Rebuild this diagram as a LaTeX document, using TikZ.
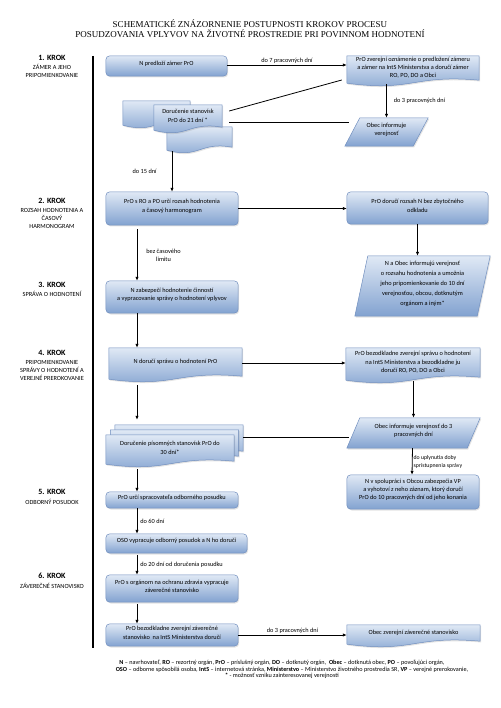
\documentclass[tikz,border=0pt]{standalone}
\usepackage{fontspec}
\setmainfont{Carlito}
\newfontfamily\titlefont{Liberation Serif}
\usetikzlibrary{arrows.meta,calc,fit,backgrounds,shadows}
\definecolor{btop}{RGB}{224,233,245}
\definecolor{bbot}{RGB}{130,162,208}
\definecolor{bord}{RGB}{112,142,190}
\newcommand{\bx}[4]{\node[txt, fit={#2 #3}] (#1) {#4};}
\newcommand{\rrbg}[1]{\path[boxfill, rounded corners=4pt] (#1.north west) rectangle (#1.south east);}
\newcommand{\docbg}[1]{\path[boxfill] ($(#1.south west)+(0,-1)$) -- (#1.north west) -- (#1.north east) -- ($(#1.south east)+(0,-4)$) .. controls ($(#1.south)+(0,-10)$) and ($(#1.south)+(0,8)$) .. ($(#1.south west)+(0,-1)$) -- cycle;}
\newcommand{\parbg}[2]{\path[boxfill] ($(#1.north west)+(#2,0)$) -- (#1.north east) -- ($(#1.south east)-(#2,0)$) -- (#1.south west) -- cycle;}
\begin{document}
\begin{tikzpicture}[x=1pt,y=-1pt,
 txt/.style={inner sep=0pt, align=center, font=\fontsize{6.3}{8.2}\selectfont},
 boxfill/.style={draw=bord, line width=0.5pt, top color=btop, bottom color=bbot,
   drop shadow={opacity=0.22,shadow xshift=1pt,shadow yshift=-1.3pt}},
 arr/.style={-{Latex[length=4pt,width=3.4pt]}, line width=0.8pt},
 ln/.style={line width=0.8pt},
 lbl/.style={font=\fontsize{6.3}{8}\selectfont, inner sep=1pt, align=left},
 krok/.style={font=\bfseries\fontsize{8}{9}\selectfont, inner sep=0pt},
 ksub/.style={align=center, font=\fontsize{6.3}{8}\selectfont, inner sep=0pt},
 leg/.style={inner sep=0pt, font=\fontsize{6.2}{7}\selectfont}
]
\useasboundingbox (0,0) rectangle (500,708);

% title
\node[align=center, inner sep=0pt, font=\titlefont\fontsize{9}{10.3}\selectfont] (title) at (250,29)
 {SCHEMATICKÉ ZNÁZORNENIE POSTUPNOSTI KROKOV PROCESU\\POSUDZOVANIA VPLYVOV NA ŽIVOTNÉ PROSTREDIE PRI POVINNOM HODNOTENÍ};

% left labels
\node[krok] (k1) at (52,58) {1. KROK};
\node[ksub] (k1s) at (52,71) {ZÁMER A JEHO\\PRIPOMIENKOVANIE};
\node[krok] (k2) at (52,201) {2. KROK};
\node[ksub] (k2s) at (52,218) {ROZSAH HODNOTENIA A\\ČASOVÝ\\HARMONOGRAM};
\node[krok] (k3) at (52,285) {3. KROK};
\node[ksub] (k3s) at (52,294) {SPRÁVA O HODNOTENÍ};
\node[krok] (k4) at (52,353) {4. KROK};
\node[ksub] (k4s) at (52,370) {PRIPOMIENKOVANIE\\SPRÁVY O HODNOTENÍ A\\VEREJNÉ PREROKOVANIE};
\node[krok] (k5) at (52,492) {5. KROK};
\node[ksub] (k5s) at (52,502) {ODBORNÝ POSUDOK};
\node[krok] (k6) at (52,576) {6. KROK};
\node[ksub] (k6s) at (52,586) {ZÁVEREČNÉ STANOVISKO};

% vertical bar
\draw[line width=2.8pt] (93,56) -- (93,648);

\coordinate (colx) at (137,0);

% boxes
\bx{n1}{(106,56)}{(227,76)}{N predloží zámer PrO}
\bx{n2}{(347,56)}{(479,84)}{PrO zverejní oznámenie o predložení zámeru\\a zámer na IntS Ministerstva a doručí zámer\\RO, PO, DO a Obci}
\node[fit={(123,101) (190,126)}, inner sep=0pt] (md1a) {};
\node[fit={(167,127) (232,151)}, inner sep=0pt] (md1c) {};
\bx{md1}{(154,105)}{(222,131)}{Doručenie stanovísk\\PrO do 21 dní *}
\bx{ob1}{(345,118)}{(428,146)}{Obec informuje\\verejnosť}
\bx{n5}{(106,192)}{(238,225)}{PrO s RO a PO určí rozsah hodnotenia\\a časový harmonogram}
\bx{n6}{(347,192)}{(488,224)}{PrO doručí rozsah N bez zbytočného\\odkladu}
\node[txt, fit={(355,256) (490,316)}, font=\fontsize{6.3}{10}\selectfont] (p7) {N a Obec informujú verejnosť\\o rozsahu hodnotenia a umožnia\\jeho pripomienkovanie do 10 dní\\verejnosťou, obcou, dotknutým\\orgánom a iným*};
\bx{n8}{(106,281)}{(238,313)}{N zabezpečí hodnotenie činností\\a vypracovanie správy o hodnotení vplyvov}
\bx{n9}{(109,348)}{(242,380)}{N doručí správu o hodnotení PrO}
\bx{n10}{(346,348)}{(480,381)}{PrO bezodkladne zverejní správu o hodnotení\\na IntS Ministerstva a bezodkladne ju\\doručí RO, PO, DO a Obci}
\bx{p11}{(347,418)}{(480,448)}{Obec informuje verejnosť do 3\\pracovných dní}
\node[fit={(115,425) (243,455)}, inner sep=0pt] (md2c) {};
\node[fit={(110.5,430) (238.5,460)}, inner sep=0pt] (md2b) {};
\bx{md2}{(106,435)}{(234,465)}{Doručenie písomných stanovísk PrO do\\30 dní*}
\bx{n13}{(347,475)}{(479,509)}{N v spolupráci s Obcou zabezpečia VP\\a vyhotoví z neho záznam, ktorý doručí\\PrO do 10 pracovných dní od jeho konania}
\bx{n14}{(106,492)}{(238,508)}{PrO určí spracovateľa odborného posudku}
\bx{n15}{(106,534)}{(247,553)}{OSO vypracuje odborný posudok a N ho doručí}
\bx{n16}{(106,575)}{(238,602)}{PrO s orgánom na ochranu zdravia vypracuje\\záverečné stanovisko}
\bx{n17}{(106,624)}{(238,646)}{PrO bezodkladne zverejní záverečné\\stanovisko\ \ na IntS Ministerstva doručí}
\bx{n18}{(347,625)}{(480,645)}{Obec zverejní záverečné stanovisko}

% shapes behind text
\begin{scope}[on background layer]
\rrbg{n1}
\docbg{n2}
\docbg{md1a}
\docbg{md1c}
\docbg{md1}
\parbg{ob1}{15}
\rrbg{n5}
\rrbg{n6}
\parbg{p7}{13}
\rrbg{n8}
\docbg{n9}
\docbg{n10}
\parbg{p11}{13}
\docbg{md2c}
\docbg{md2b}
\docbg{md2}
\rrbg{n13}
\rrbg{n14}
\rrbg{n15}
\rrbg{n16}
\rrbg{n17}
\docbg{n18}
\end{scope}

% connectors
\draw[arr] ($(n1.east)+(0,-1)$) -- node[lbl, above] {do 7 pracovných dní} ($(n1.east -| n2.west)+(0,-1)$);
\draw[ln] ($(n2.west)+(-5,10)$) -- ($(md1.east)+(7,-7)$);
\draw[arr] (ob1.north |- n2.south) -- node[lbl, right, xshift=6pt] {do 3 pracovných dní} (ob1.north);
\draw[ln] ($(ob1.west)+(4,-10)$) -- ($(md1.east)+(7,4)$);
\draw[arr] (md1c.south -| n5.north) -- node[lbl, left, xshift=-14pt] {do 15 dní} (n5.north);
\draw[arr] (n5.east) -- (n5.east -| n6.west);
\draw[arr] (n6.south) -- (n6.south |- p7.north);
\draw[arr] ($(n5.south -| colx)+(0,4)$) -- node[lbl, right, xshift=8pt, align=center] {bez časového\\limitu} (n8.north -| colx);
\draw[arr] (n8.south -| colx) -- (n9.north -| colx);
\draw[arr] ($(n9.east)+(0,-1)$) -- ($(n9.east -| n10.west)+(0,-1)$);
\draw[arr] (n10.south -| p11.north) -- (p11.north);
\draw[ln] ($(p11.west)+(2,4)$) -- ($(md2c.east)+(0,-3)$);
\draw[arr] ($(n9.south -| colx)+(0,5)$) -- ($(md2c.north -| colx)+(0,-5)$);
\draw[arr] ($(p11.south)+(-1,0)$) -- node[lbl, right, font=\fontsize{5.8}{8}\selectfont] {do uplynutia doby\\sprístupnenia správy} ($(n13.north)+(-1,0)$);
\draw[arr] ($(md2.south -| colx)+(0,4)$) -- (n14.north -| colx);
\draw[arr] (n14.south -| colx) -- node[lbl, right, xshift=2pt] {do 60 dní} (n15.north -| colx);
\draw[arr] ($(n15.south -| colx)+(0,2)$) -- node[lbl, right, xshift=2pt] {do 20 dní od doručenia posudku} (n16.north -| colx);
\draw[arr] ($(n16.south -| colx)+(0,2)$) -- (n17.north -| colx);
\draw[arr] (n17.east) -- node[lbl, above] {do 3 pracovných dní} (n17.east -| n18.west);

% legend
\node[leg] (leg1) at (282,663) {\textbf{N} – navrhovateľ, \textbf{RO} – rezortný orgán, \textbf{PrO} – príslušný orgán, \textbf{DO} – dotknutý orgán,\ \ \textbf{Obec} – dotknutá obec, \textbf{PO} – povoľujúci orgán,};
\node[leg] (leg2) at (292,669.5) {\textbf{OSO} – odborne spôsobilá osoba, \textbf{IntS} – internetová stránka, \textbf{Ministerstvo} – Ministerstvo životného prostredia SR, \textbf{VP} – verejné prerokovanie,};
\node[leg] (leg3) at (282,676) {\textbf{*} - možnosť vzniku zainteresovanej verejnosti};
\end{tikzpicture}
\end{document}
